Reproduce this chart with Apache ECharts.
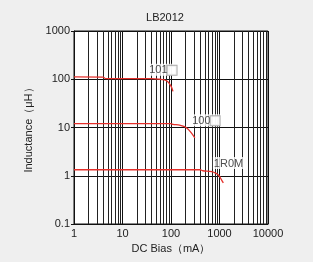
<!DOCTYPE html>
<html><head><meta charset="utf-8">
<script src="https://cdn.jsdelivr.net/npm/echarts@6/dist/echarts.min.js"></script>
<style>html,body{margin:0;padding:0;background:#fff}#c{width:313px;height:266px}</style>
</head><body><div id="c"></div>
<script>
const title = 'LB2012';
const xTicks = [1, 10, 100, 1000, 10000];
const yTicks = [0.1, 1, 10, 100, 1000];
const s101 = [[1,112],[4,111],[4.5,103],[40,103],[60,100],[70,98],[85,90],[100,72],[110,56]];
const s100 = [[1,12],[100,12],[110,11.6],[150,11.2],[190,10.4],[220,9.4],[260,7.8],[310,6.1]];
const s1R0 = [[1,1.33],[400,1.33],[450,1.27],[690,1.22],[850,1.12],[980,1.0],[1100,0.82],[1200,0.71]];
const labels = [
  {name:'101', coord:[68,157], box:true},
  {name:'100', coord:[525,14.1], box:true},
  {name:'1R0M', coord:[1535,1.83], box:false}
];
// minor vertical grid positions (2..9 per decade)
const minorX = [];
for (let d = 1; d < 10000; d *= 10) for (let k = 2; k <= 9; k++) minorX.push(k * d);

const chart = echarts.init(document.getElementById('c'));
const font = 'Liberation Sans, Arial, sans-serif';
const red = '#e5302b';
const lineSeries = (data) => ({type:'line', data, symbol:'none', smooth:0.3, lineStyle:{color:red, width:1.3}, z:5});
chart.setOption({
  backgroundColor:'#efefef',
  animation:false,
  textStyle:{fontFamily:font},
  title:{text:title, left:160, top:7, textAlign:'center', textStyle:{fontSize:11, fontWeight:'normal', color:'#222', fontFamily:font}},
  graphic:[{type:'rect', shape:{x:0,y:262,width:313,height:4}, style:{fill:'#fff'}, silent:true}],
  grid:{left:74, right:45, top:31, bottom:42, show:true, backgroundColor:'#fff', borderColor:'#111', borderWidth:1},
  xAxis:{type:'log', logBase:10, min:1, max:10000, name:'DC Bias（mA）', nameLocation:'middle', nameGap:19,
    nameTextStyle:{fontSize:11, color:'#222'},
    axisLine:{show:true, lineStyle:{color:'#111'}}, axisTick:{show:false},
    axisLabel:{fontSize:11, color:'#222', margin:4, formatter:(v)=>String(v)},
    splitLine:{show:true, lineStyle:{color:'#111', width:1}}},
  yAxis:{type:'log', logBase:10, min:0.1, max:1000, name:'Inductance（μH）', nameLocation:'middle', nameGap:24, nameRotate:90,
    nameTextStyle:{fontSize:11, color:'#222'},
    axisLine:{show:true, lineStyle:{color:'#111'}}, axisTick:{show:true, length:3, lineStyle:{color:'#111'}},
    axisLabel:{fontSize:11, color:'#222', margin:4, formatter:(v)=>String(v)},
    splitLine:{show:true, lineStyle:{color:'#111', width:1}}},
  series:[
    {type:'line', data:[], markLine:{silent:true, symbol:'none', label:{show:false},
      lineStyle:{color:'#222', width:1, type:'solid'}, data:minorX.map(v=>({xAxis:v}))}, z:1},
    lineSeries(s101), lineSeries(s100), lineSeries(s1R0),
    {type:'scatter', data:labels.map(l=>({value:l.coord, name:l.name, box:l.box})), symbolSize:0, z:10,
      label:{show:true, position:'inside', fontSize:11, color:'#222', backgroundColor:'#fff', padding:[1,1,0,1],
        formatter:(p)=> p.data.box ? p.name + '{b|}' : p.name,
        rich:{b:{width:9, height:9, borderColor:'#999', borderWidth:1, backgroundColor:'#fff'}}}}
  ]
});
</script></body></html>
